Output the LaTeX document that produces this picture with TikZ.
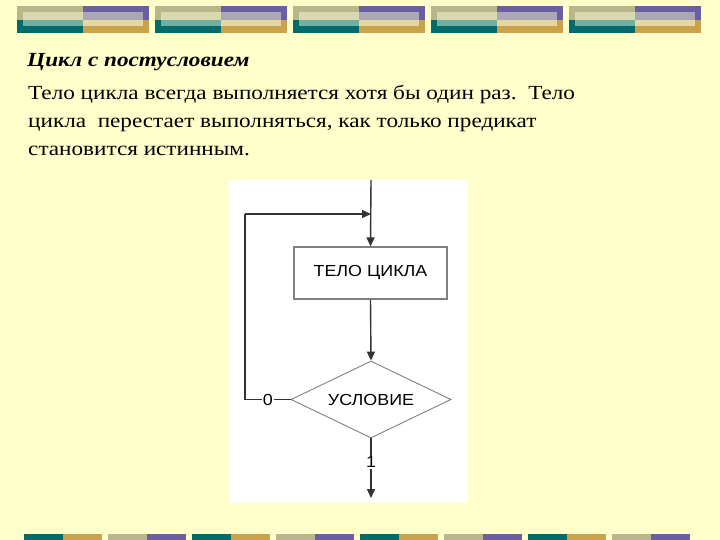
\documentclass[tikz,border=0pt]{standalone}
\usepackage{fontspec}
\setmainfont[FakeStretch=1.16]{Liberation Serif}
\setsansfont{Liberation Sans}
\newfontfamily\diagfont[FakeStretch=1.12]{Liberation Sans}
\usetikzlibrary{shapes.geometric,arrows.meta}
\definecolor{bgy}{HTML}{FFFFCC}
\definecolor{khaki}{HTML}{B9B68C}
\definecolor{khakiL}{HTML}{D8D9B0}
\definecolor{tealD}{HTML}{006B6B}
\definecolor{tealL}{HTML}{6FB0A0}
\definecolor{purp}{HTML}{6A5FA5}
\definecolor{purpL}{HTML}{ABA7B4}
\definecolor{gold}{HTML}{C9A24A}
\definecolor{goldL}{HTML}{E6D6A0}
\definecolor{lineg}{HTML}{333333}
\tikzset{
  bodytext/.style={anchor=base west, inner sep=0pt, font=\fontsize{20}{24}\selectfont},
  titletext/.style={anchor=base west, inner sep=0pt, font=\fontsize{20}{24}\selectfont\bfseries\itshape},
  blockbox/.style={draw=gray, line width=1.2pt, fill=white, minimum width=153pt, minimum height=52pt, font=\diagfont\fontsize{16}{18}\selectfont, inner sep=0pt},
  condbox/.style={diamond, draw=gray, line width=0.9pt, fill=white, minimum width=160pt, minimum height=77pt, aspect=2.08, font=\diagfont\fontsize{16}{18}\selectfont, inner sep=0pt},
  flow/.style={draw=lineg, line width=1.4pt},
  arr/.style={flow, -{Triangle[length=9pt,width=8pt]}},
  edgelbl/.style={fill=white, inner sep=1pt, font=\diagfont\fontsize{16}{18}\selectfont}
}
\begin{document}
\begin{tikzpicture}[x=1pt,y=-1pt]
\fill[bgy] (0,0) rectangle (720,540);
\useasboundingbox (0,0) rectangle (720,540);
% top decoration blocks
\foreach \x in {17,155,293,431,569}{
  \fill[khaki] (\x,6) rectangle (\x+66,20);
  \fill[tealD] (\x,20) rectangle (\x+66,33);
  \fill[purp] (\x+66,6) rectangle (\x+132,20);
  \fill[gold] (\x+66,20) rectangle (\x+132,33);
  \fill[khakiL] (\x+6,12) rectangle (\x+66,20);
  \fill[tealL] (\x+6,20) rectangle (\x+66,26);
  \fill[purpL] (\x+66,12) rectangle (\x+126,20);
  \fill[goldL] (\x+66,20) rectangle (\x+126,26);
}
% bottom decoration blocks
\foreach \x in {24,192,360,528}{
  \fill[tealD] (\x,534) rectangle (\x+39,540);
  \fill[gold] (\x+39,534) rectangle (\x+78,540);
}
\foreach \x in {108,276,444,612}{
  \fill[khaki] (\x,534) rectangle (\x+39,540);
  \fill[purp] (\x+39,534) rectangle (\x+78,540);
}
% text
\node[titletext] (title) at (27,67) {Цикл с постусловием};
\node[bodytext] (l1) at (28,100) {Тело цикла всегда выполняется хотя бы один раз.\ \ Тело};
\node[bodytext] (l2) at (28,128) {цикла\ \ перестает выполняться, как только предикат};
\node[bodytext] (l3) at (28,156) {становится истинным.};
% diagram panel
\fill[white] (229,180) rectangle (468,503);
\node[blockbox] (body) at (370.5,273) {ТЕЛО ЦИКЛА};
\node[condbox] (cond) at (371,399.5) {УСЛОВИЕ};
\coordinate (entry) at (371,180);
\coordinate (join) at (371,214);
\coordinate (exit) at (371,498);
\coordinate (lb) at (245,399.5);
\coordinate (lt) at (245,214);
\path[arr] (entry) -- (body.north);
\path[arr] (body.south) -- (cond.north);
\path[flow] (cond.west) -- node[edgelbl] (zero) {0} (lb) -- (lt);
\path[arr] (lt) -- (join);
\path[arr] (cond.south) -- node[edgelbl, pos=0.4] (one) {1} (exit);
\end{tikzpicture}
\end{document}
